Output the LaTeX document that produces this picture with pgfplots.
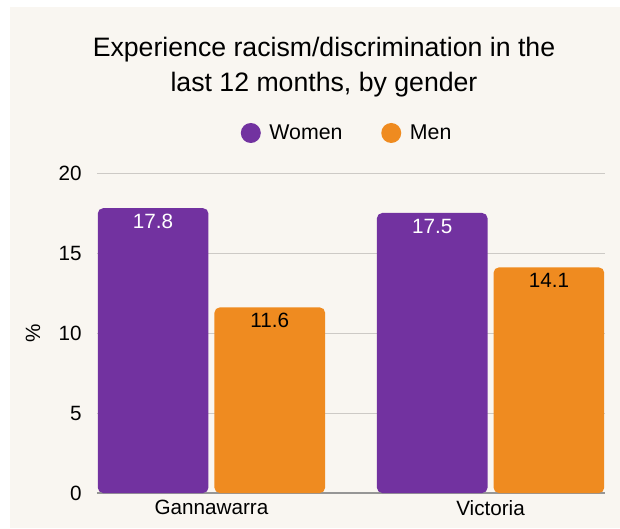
\documentclass[border=0pt]{standalone}
\usepackage{pgfplots}
\pgfplotsset{compat=1.18}
\usepackage{fontspec}
\setmainfont{Liberation Sans}
\definecolor{bgbeige}{RGB}{249,246,241}
\definecolor{cpurple}{RGB}{114,50,160}
\definecolor{corange}{RGB}{239,139,32}
\definecolor{gridc}{RGB}{205,202,198}
\definecolor{axisc}{RGB}{150,150,150}
\begin{document}
\begin{tikzpicture}
\fill[white] (-72.75pt,-26.25pt) rectangle (392.25pt,369.75pt);
\fill[bgbeige] (-65.25pt,-26.25pt) rectangle (392.25pt,364.5pt);
\begin{axis}[
  at={(0pt,0pt)}, anchor=south west,
  scale only axis, width=381pt, height=240pt,
  ybar=4.5pt, bar width=83pt,
  xmin=-0.41, xmax=1.41, ymin=0, ymax=20,
  xtick={0,1}, xticklabels={Gannawarra,Victoria},
  ytick={0,5,10,15,20},
  major tick length=0pt,
  axis x line*=bottom, axis y line*=left,
  x axis line style={draw=axisc, line width=0.8pt},
  y axis line style={draw=none},
  ymajorgrids, grid style={draw=gridc, line width=0.7pt},
  /pgf/number format/assume math mode=true,
  tick label style={font=\fontsize{15.5}{18}\selectfont, text=black},
  yticklabel style={xshift=-8pt},
  xticklabel style={yshift=-2pt},
  ylabel={\%}, ylabel style={at={(axis description cs:-0.126,0.5)}, anchor=center, font=\fontsize{15.5}{18}\selectfont},
  nodes near coords={\pgfmathprintnumber[fixed,fixed zerofill,precision=1]{\pgfplotspointmeta}},
  nodes near coords style={font=\fontsize{15.5}{18}\selectfont, anchor=north, yshift=-1pt},
  legend columns=2,
  legend style={at={(axis description cs:0.493,1.125)}, anchor=center, draw=none, fill=none,
    font=\fontsize{16}{19}\selectfont, /tikz/every even column/.append style={column sep=27pt}},
  legend image code/.code={\fill[#1] (0pt,0pt) circle (7.5pt); \path (12pt,0pt);},
]
\addplot[fill=cpurple, draw=none, rounded corners=4pt, nodes near coords style={text=white}] coordinates {(0,17.8) (1,17.5)};
\addplot[fill=corange, draw=none, rounded corners=4pt, nodes near coords style={text=black}] coordinates {(0,11.6) (1,14.1)};
\legend{Women,Men}
\end{axis}
\node[align=center, font=\fontsize{20}{26}\selectfont] at (170.25pt,319.5pt) {Experience racism/discrimination in the\\last 12 months, by gender};
\end{tikzpicture}
\end{document}
